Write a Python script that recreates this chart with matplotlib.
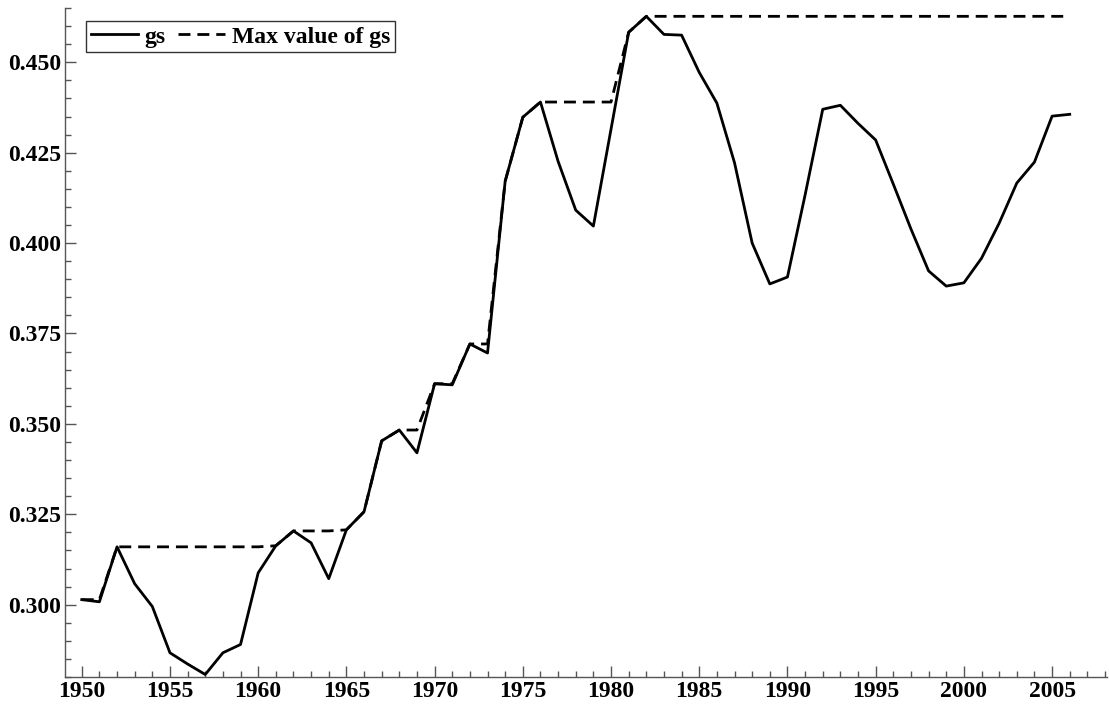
import numpy as np
import matplotlib
matplotlib.use("Agg")
import matplotlib.pyplot as plt
from matplotlib.ticker import MultipleLocator, FormatStrFormatter

# gs series, annual values
years = list(range(1950, 2007))
gs = [0.3014, 0.3008, 0.3160, 0.3058, 0.2995, 0.2867, 0.2836, 0.2807, 0.2867, 0.2890,
      0.3088, 0.3163, 0.3204, 0.3171, 0.3072, 0.3207, 0.3257, 0.3453, 0.3483, 0.3420,
      0.3611, 0.3608, 0.3721, 0.3696, 0.4171, 0.4348, 0.4390, 0.4226, 0.4091, 0.4047,
      0.4315, 0.4583, 0.4627, 0.4577, 0.4575, 0.4472, 0.4387, 0.4222, 0.4000, 0.3887,
      0.3906, 0.4133, 0.4370, 0.4381, 0.4331, 0.4285, 0.4163, 0.4039, 0.3923, 0.3881,
      0.3890, 0.3958, 0.4055, 0.4166, 0.4224, 0.4351, 0.4356]

# running maximum of gs
gs_max = np.maximum.accumulate(gs)

plt.rcParams['font.family'] = ['Liberation Serif', 'DejaVu Serif']
plt.rcParams['font.weight'] = 'bold'

fig = plt.figure(figsize=(11.09, 7.09), dpi=100)
ax = fig.add_axes([0.0586, 0.0451, 0.9394, 0.9436])

ax.plot(years, gs, color='black', lw=2.0, label='gs')
ax.plot(years, gs_max, color='black', lw=2.0, dashes=(4.3, 2.5), label='Max value of gs')

ax.set_xlim(1949.05, 2008.1)
ax.set_ylim(0.280, 0.465)

ax.xaxis.set_major_locator(MultipleLocator(5))
ax.xaxis.set_minor_locator(MultipleLocator(1))
ax.yaxis.set_major_locator(MultipleLocator(0.025))
ax.yaxis.set_minor_locator(MultipleLocator(0.005))
ax.yaxis.set_major_formatter(FormatStrFormatter('%.3f'))

for side in ['top', 'right']:
    ax.spines[side].set_visible(False)
for side in ['left', 'bottom']:
    ax.spines[side].set_color('#555555')
    ax.spines[side].set_linewidth(1.0)

ax.tick_params(which='both', direction='in', color='#555555', labelsize=17)
ax.tick_params(which='major', length=8, width=1.0)
ax.tick_params(which='minor', length=4.5, width=1.0)
ax.tick_params(axis='x', pad=3)
ax.tick_params(axis='y', pad=3)

leg = ax.legend(loc='upper left', bbox_to_anchor=(0.02, 0.98), borderaxespad=0,
                ncol=2, fontsize=17, frameon=True, fancybox=False, handlelength=2.0,
                handletextpad=0.3, columnspacing=0.5, borderpad=0.2)
leg.get_frame().set_edgecolor('black')
leg.get_frame().set_linewidth(1.0)

fig.savefig('out.png', dpi=100)
